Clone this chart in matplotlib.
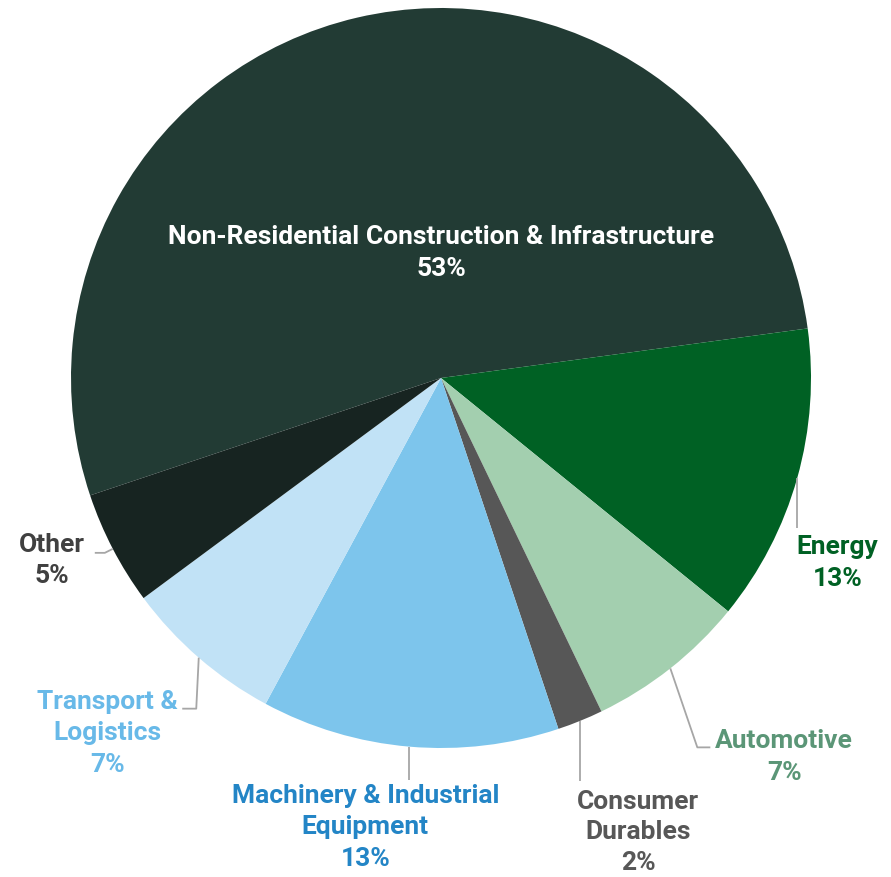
import numpy as np
import matplotlib
matplotlib.use("Agg")
import matplotlib.pyplot as plt

# share of demand by end-use sector, clockwise from the top-left
sectors = ["Non-Residential Construction & Infrastructure", "Energy", "Automotive",
           "Consumer\nDurables", "Machinery & Industrial\nEquipment",
           "Transport &\nLogistics", "Other"]
shares = [53, 13, 7, 2, 13, 7, 5]

slice_colors = ["#223b34", "#006124", "#a3cfaf", "#575757", "#7dc5ec", "#c1e2f6", "#172421"]
label_colors = ["#ffffff", "#006124", "#5b9677", "#575757", "#2385c6", "#68b9e8", "#404040"]

W, H = 891, 877
cx, cy, R = 441, H - 378, 370

fig = plt.figure(figsize=(W / 100, H / 100), dpi=100)
ax = fig.add_axes([0, 0, 1, 1])

wedges, _ = ax.pie(shares, startangle=198.5, counterclock=False, colors=slice_colors,
                   center=(cx, cy), radius=R, frame=True,
                   wedgeprops=dict(linewidth=0, antialiased=True))
ax.set_xlim(0, W)
ax.set_ylim(0, H)
ax.set_aspect("equal")
ax.axis("off")

font = dict(family="Roboto", weight="bold", fontsize=19)
line_h = 31.5

# connector layout per outside label: elbow offset from the rim, tail length,
# and centre of the text block (first line) relative to the tail end
layout = {
    1: dict(elbow=(0, -50), tail=0, text=(40, -19)),
    2: dict(elbow=(27, -79), tail=13, text=(74, 6)),
    3: dict(elbow=(0, -60), tail=0, text=(58, -21), gap=30.5),
    4: dict(elbow=(0, -33), tail=0, text=(-44, -16)),
    5: dict(elbow=(-2.5, -51), tail=-14, text=(-75, 7)),
    6: dict(elbow=(-8, -4), tail=-10, text=(-43, 8)),
}

for i, w in enumerate(wedges):
    mid = np.deg2rad((w.theta1 + w.theta2) / 2)
    lines = sectors[i].split("\n") + [f"{shares[i]}%"]
    if i == 0:
        tx, ty = cx, H - 237
        for k, s in enumerate(lines):
            ax.text(tx, ty - k * line_h, s, color=label_colors[i], ha="center", va="center", **font)
        continue
    lay = layout[i]
    x0, y0 = cx + R * np.cos(mid), cy + R * np.sin(mid)
    x1, y1 = x0 + lay["elbow"][0], y0 + lay["elbow"][1]
    x2 = x1 + lay["tail"]
    ax.plot([x0, x1, x2], [y0, y1, y1], color="#a6a6a6", lw=1.3, solid_capstyle="butt")
    tx, ty = x2 + lay["text"][0], y1 + lay["text"][1]
    gap = lay.get("gap", line_h)
    for k, s in enumerate(lines):
        ax.text(tx, ty - k * gap, s, color=label_colors[i], ha="center", va="center", **font)

fig.savefig("out.png", dpi=100, facecolor="white")
